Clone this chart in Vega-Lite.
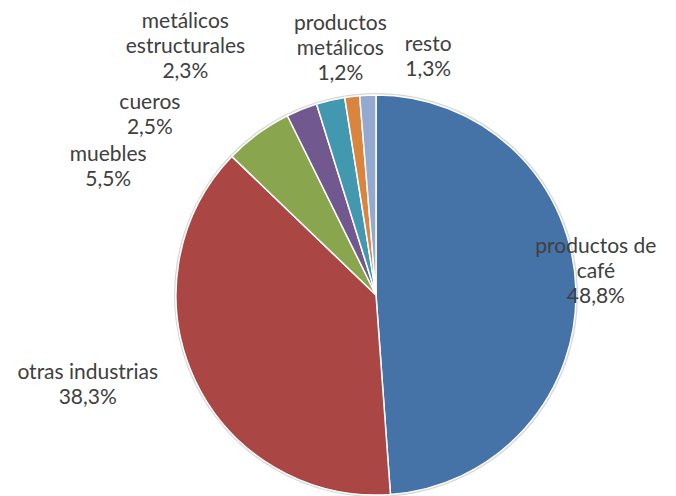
{
  "$schema": "https://vega.github.io/schema/vega-lite/v6.json",
  "width": 420,
  "height": 390,
  "autosize": {"type": "none"},
  "padding": {"left": 166, "top": 100, "right": 90, "bottom": 6},
  "background": "white",
  "config": {
    "view": {"stroke": null},
    "text": {"font": "Lato", "fontSize": 21, "lineHeight": 25, "fill": "#404040"}
  },
  "data": {
    "values": [
      {"sector": "productos de café", "pct": 48.8, "orden": 1, "etiqueta": "productos de\ncafé\n48,8%"},
      {"sector": "otras industrias", "pct": 38.3, "orden": 2, "etiqueta": "otras industrias\n38,3%"},
      {"sector": "muebles", "pct": 5.5, "orden": 3, "etiqueta": "muebles\n5,5%"},
      {"sector": "cueros", "pct": 2.5, "orden": 4, "etiqueta": "cueros\n2,5%"},
      {"sector": "metálicos estructurales", "pct": 2.3, "orden": 5, "etiqueta": "metálicos\nestructurales\n2,3%"},
      {"sector": "productos metálicos", "pct": 1.2, "orden": 6, "etiqueta": "productos\nmetálicos\n1,2%"},
      {"sector": "resto", "pct": 1.3, "orden": 7, "etiqueta": "resto\n1,3%"}
    ]
  },
  "encoding": {
    "theta": {"field": "pct", "type": "quantitative", "stack": true},
    "order": {"field": "orden", "type": "quantitative"}
  },
  "layer": [
    {"mark": {"type": "arc", "outerRadius": 202, "fill": "#d6d6d6"}},
    {
      "mark": {"type": "arc", "outerRadius": 200, "stroke": "white", "strokeWidth": 1.5},
      "encoding": {
        "color": {
          "field": "sector",
          "type": "nominal",
          "scale": {
            "domain": ["productos de café", "otras industrias", "muebles", "cueros", "metálicos estructurales", "productos metálicos", "resto"],
            "range": ["#4572A7", "#AA4643", "#89A54E", "#71588F", "#4198AF", "#DB843D", "#93A9CF"]
          },
          "legend": null
        }
      }
    },
    {
      "mark": {"type": "text", "radius": 240, "dx": -20, "dy": -39, "lineBreak": "\n", "align": "center", "baseline": "middle"},
      "encoding": {"text": {"condition": {"test": "datum.sector === 'productos de café'", "field": "etiqueta"}, "value": ""}}
    },
    {
      "mark": {"type": "text", "radius": 240, "dx": -71, "dy": -23.5, "lineBreak": "\n", "align": "center", "baseline": "middle"},
      "encoding": {"text": {"condition": {"test": "datum.sector === 'otras industrias'", "field": "etiqueta"}, "value": ""}}
    },
    {
      "mark": {"type": "text", "radius": 240, "dx": -126, "dy": 54, "lineBreak": "\n", "align": "center", "baseline": "middle"},
      "encoding": {"text": {"condition": {"test": "datum.sector === 'muebles'", "field": "etiqueta"}, "value": ""}}
    },
    {
      "mark": {"type": "text", "radius": 240, "dx": -137, "dy": 31, "lineBreak": "\n", "align": "center", "baseline": "middle"},
      "encoding": {"text": {"condition": {"test": "datum.sector === 'cueros'", "field": "etiqueta"}, "value": ""}}
    },
    {
      "mark": {"type": "text", "radius": 240, "dx": -136, "dy": -39, "lineBreak": "\n", "align": "center", "baseline": "middle"},
      "encoding": {"text": {"condition": {"test": "datum.sector === 'metálicos estructurales'", "field": "etiqueta"}, "value": ""}}
    },
    {
      "mark": {"type": "text", "radius": 240, "dx": -7, "dy": -33, "lineBreak": "\n", "align": "center", "baseline": "middle"},
      "encoding": {"text": {"condition": {"test": "datum.sector === 'productos metálicos'", "field": "etiqueta"}, "value": ""}}
    },
    {
      "mark": {"type": "text", "radius": 240, "dx": 62, "dy": -10.5, "lineBreak": "\n", "align": "center", "baseline": "middle"},
      "encoding": {"text": {"condition": {"test": "datum.sector === 'resto'", "field": "etiqueta"}, "value": ""}}
    }
  ]
}
